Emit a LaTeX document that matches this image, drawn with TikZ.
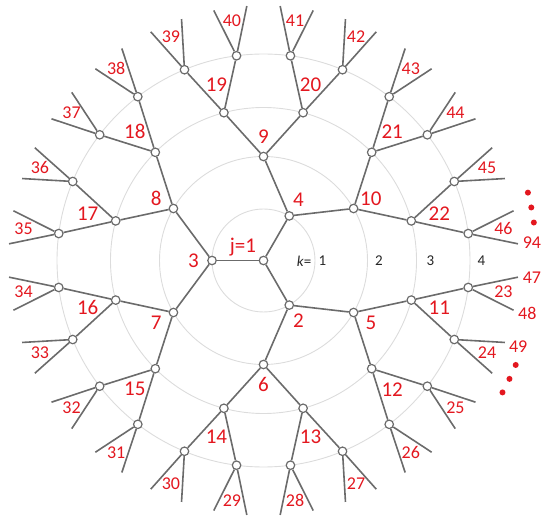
\documentclass[tikz,border=0pt]{standalone}
\usepackage{fontspec}
\setmainfont{Carlito}
\usepackage{xcolor}
\definecolor{branch}{HTML}{6B6B6B}
\definecolor{ringgray}{HTML}{DCDCDC}
\definecolor{tagred}{HTML}{E3171F}
\definecolor{ringtext}{HTML}{262626}
\usetikzlibrary{positioning, calc}

\begin{document}
\begin{tikzpicture}[
        x=1pt, y=1pt,
        site/.style={
            circle,
            draw=branch,
            fill=white,
            line width=1.2pt,
            inner sep=0pt,
            minimum size=8.5pt
        },
        bond/.style={
            draw=branch,
            line width=1.6pt
        },
        ring/.style={
            draw=ringgray,
            line width=0.9pt
        },
        tag/.style={
            text=tagred,
            font=\fontsize{#1}{#1}\selectfont,
            inner sep=0pt
        },
        ringtag/.style={
            text=ringtext,
            font=\fontsize{15}{15}\selectfont,
            inner sep=0pt
        }
    ]

    % Frame of the picture
    \useasboundingbox (-263.5,-260.5) rectangle (281.5,260.5);

    % Shells k = 1..4
    \coordinate (O) at (0,0);
    \foreach \r in {51.5,104,153,206.5}
        \draw[ring] (O) circle (\r);

    % Root site
    \node[site] (n1) at (O) {};
    \node[tag=21] (t1) at ($(O)+(-20.5,13.5)$) {j=1};

    % Generations 1..4: sites, bonds to the parent and red numbers
    \foreach \g/\r/\rt/\fs in {1/51.5/70/21, 2/104/124/21, 3/153/182/21, 4/206.5/242/18} {
        \pgfmathtruncatemacro{\cnt}{3*2^(\g-1)}
        \pgfmathsetmacro{\stp}{360/\cnt}
        \foreach \i in {1,...,\cnt} {
            \pgfmathtruncatemacro{\m}{\cnt-2+\i}
            \pgfmathtruncatemacro{\up}{max(1,floor((\m-1)/2))}
            \pgfmathsetmacro{\ang}{-\stp*(\i-0.5)}
            \node[site] (n\m) at (\ang:\r) {};
            \draw[bond] (n\up) -- (n\m);
            \node[tag=\fs] (t\m) at (\ang:\rt) {\m};
        }
    }

    % Generation 5: open bonds
    \foreach \i in {1,...,48} {
        \pgfmathtruncatemacro{\m}{46+\i}
        \pgfmathtruncatemacro{\up}{floor((\m-1)/2)}
        \pgfmathsetmacro{\ang}{-7.5*(\i-0.5)}
        \coordinate (s\m) at (\ang:255);
        \draw[bond] (n\up) -- (s\m);
    }
    \foreach \m/\ang in {47/-3.75, 48/-11.25, 49/-18.75, 94/3.75}
        \node[tag=18] (t\m) at (\ang:269) {\m};

    % Dots for the skipped numbers
    \foreach \ang in {14.4, 11.2, 8.0, -22.5, -25.7, -28.9}
        \fill[tagred] (\ang:273) circle (3);

    % Shell numbers
    \foreach \k/\x in {1/59, 2/115.5, 3/167, 4/218}
        \node[ringtag] (k\k) at (\x,-0.5) {\k};
    \node[ringtag, left=7pt of k1] (kname) {\textit{k}=};

\end{tikzpicture}
\end{document}
